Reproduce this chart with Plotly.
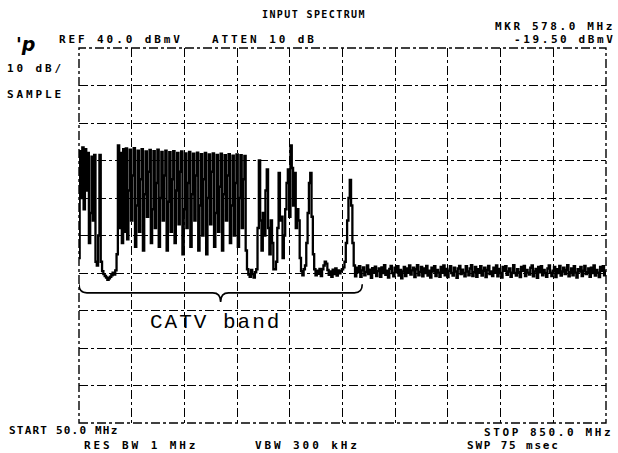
import numpy as np
import plotly.graph_objects as go

# ---------------- data ----------------
START_MHZ = 50.0
STOP_MHZ = 850.0
REF_DBMV = 40.0
DB_PER_DIV = 10
N_DIV = 10
CATV_BAND_MHZ = [50, 480]
CATV_LABEL = "CATV band"

# trace levels (dBmV), one sample per 2 MHz bin
level_low_vhf = [-16, 12.5, 0, 13.5, -3, 13, 2, 12, -12, -4, 11, -6, 11.5, -17,
                 -18, -10, 11.5, -17]
level_fm_gap = [-19.5, -20.3, -20.8, -21.2, -21.8, -21.4, -21.0, -20.6, -19.9, -20.4, -19.3]
level_mid_start = [-15, 14, -8, 12, -12, 13, -9]
level_dense = [13.2, -11, 2, 12.9, -6, 6, 13.3, -13, -2, 12.6, -9, 5,
               13.0, -14, 1, 12.4, -5, 7, 12.8, -12, -3, 12.5, -8, 4,
               12.9, -13, 0, 12.3, -6, 6, 12.6, -14, -1, 12.2, -9, 5,
               12.5, -12, 2, 12.0, -7, 7, 12.4, -15, -3, 11.9, -8, 4,
               12.3, -13, 1, 11.8, -6, 6, 12.1, -14, -2, 11.7, -10, 5,
               12.0, -15, 0, 11.6, -7, 7, 11.9, -13, -4, 11.5, -9, 3,
               11.8, -14, 1, 11.4, -6, 6, 11.7, -12, -2, 11.3, -10, 4,
               11.6, -13, 0, 11.4, -8, 5, 11.2]
level_gap2 = [-14, -19, -20.4, -21.0, -19.2, -20.3, -21.2, -19.8, -19.0]
level_discrete = [-8, 10, -6, -14, -4, -10, 2, 7.6, -8, -15, -6, -12, -19, -19,
                  -17, -8, 6.7, -6, -5, -16, -10, -3, 4, 7.6, -5, 14, 8, -2,
                  6.7, -8, -3, -6, -16, -19.5, -20.6, -19, -18, -12, -4, 4, 6.7,
                  -5, -15, -19]
level_last_ch = [-20.6, -19.4, -20.2, -18.9, -20.8, -19.0, -18.0, -17, -17.5, -19.2, -20.5,
                 -19.6, -21.0, -19.1, -20.3, -18.8, -20.7, -19.3, -20.1, -19.5, -19,
                 -18.5, -17, -12, -6, 0, 4.8, -2, -12, -18]
level_floor = [
    -20.9, -18.6, -19.8, -18.2, -21.0, -19.3, -18.5, -20.6, -19.7, -18.0, -20.3, -19.1, -21.3, -18.7, -19.9, -18.3, -20.8, -19.5, -18.8, -21.0,
    -18.5, -20.0, -17.9, -20.5, -19.4, -21.2, -18.9, -18.1, -20.0, -20.9, -18.6, -19.8, -18.2, -20.7, -19.2, -21.4, -19.6, -18.4, -20.8, -18.8,
    -19.9, -18.0, -20.4, -19.3, -18.6, -21.1, -19.0, -17.9, -20.6, -19.7, -18.4, -20.9, -18.8, -20.0, -18.1, -20.7, -19.4, -21.2, -18.6, -19.6,
    -18.2, -20.8, -19.2, -19.9, -21.0, -18.4, -19.8, -18.0, -20.6, -18.9, -21.1, -19.4, -18.2, -20.0, -20.7, -18.6, -19.6, -21.3, -18.8, -18.1,
    -20.3, -19.1, -20.0, -20.9, -18.2, -19.6, -20.6, -18.8, -17.9, -20.8, -19.8, -18.4, -21.0, -19.0, -19.9, -18.2, -20.7, -19.4, -18.6, -21.1,
    -19.2, -18.1, -20.3, -19.6, -20.8, -18.6, -19.8, -18.0, -20.9, -18.9, -20.0, -21.2, -18.4, -19.4, -18.2, -20.5, -19.6, -18.8, -21.0, -19.9,
    -17.9, -20.0, -20.7, -19.0, -19.8, -21.1, -18.4, -19.4, -18.1, -20.8, -19.2, -19.9, -20.4, -18.6, -18.0, -20.9, -19.6, -18.9, -21.3, -18.4,
    -19.8, -18.2, -20.6, -19.2, -20.0, -21.0, -18.8, -18.0, -19.9, -20.8, -19.4, -18.4, -21.1, -19.0, -20.0, -18.1, -20.7, -19.6, -18.6, -20.3,
    -19.2, -17.9, -20.9, -19.8, -18.8, -20.6, -18.2, -19.9, -21.2, -19.0, -19.6, -18.4, -20.8, -19.4, -18.1, -20.3, -19.8, -18.8, -21.0, -18.6,
    -20.0, -18.0, -20.7, -19.2, -19.9, -21.1, -18.4, -19.4, -18.2, -20.6, -19.6,
]

level = (level_low_vhf + level_fm_gap + level_mid_start + level_dense + level_gap2
         + level_discrete + level_last_ch + level_floor)
freq = np.linspace(START_MHZ, STOP_MHZ, len(level))

header_texts = {
    "title": "INPUT SPECTRUM",
    "ref": "REF 40.0 dBmV",
    "atten": "ATTEN 10 dB",
    "scale": "10 dB/",
    "det": "SAMPLE",
    "mkr_f": "MKR 578.0 MHz",
    "mkr_a": "-19.50 dBmV",
    "start": "START 50.0 MHz",
    "rbw": "RES BW 1 MHz",
    "vbw": "VBW 300 kHz",
    "stop": "STOP 850.0 MHz",
    "swp": "SWP 75 msec",
}

# ---------------- layout ----------------
W, H = 618, 453
PL, PR, PT, PB = 79, 606, 48, 423
y_bottom = REF_DBMV - DB_PER_DIV * N_DIV
x_div = (STOP_MHZ - START_MHZ) / N_DIV

fig = go.Figure()
fig.add_trace(go.Scatter(x=freq, y=level, mode="lines",
                         line=dict(color="black", width=2.3, shape="hvh"),
                         hoverinfo="skip", showlegend=False))

axis_common = dict(showgrid=True, gridcolor="black", gridwidth=1.2, griddash="dashdot",
                   showticklabels=False, ticks="", zeroline=False, showline=False,
                   fixedrange=True)
fig.update_xaxes(range=[START_MHZ, STOP_MHZ], tick0=START_MHZ, dtick=x_div, **axis_common)
fig.update_yaxes(range=[y_bottom, REF_DBMV], tick0=y_bottom, dtick=DB_PER_DIV, **axis_common)

# dashed frame
fig.add_shape(type="rect", xref="paper", yref="paper", x0=0, y0=0, x1=1, y1=1,
              line=dict(color="black", width=1.4, dash="dashdot"), layer="above")

# brace under the CATV band
bx0, bx1 = CATV_BAND_MHZ
bxc = (bx0 + bx1) / 2
y_line, y_end, y_tip, d = -25.3, -23.0, -27.7, 12
path = (f"M {bx0},{y_end} Q {bx0},{y_line} {bx0 + d},{y_line} "
        f"L {bxc - d},{y_line} Q {bxc},{y_line} {bxc},{y_tip} "
        f"Q {bxc},{y_line} {bxc + d},{y_line} L {bx1 - d},{y_line} "
        f"Q {bx1},{y_line} {bx1},{y_end}")
fig.add_shape(type="path", path=path, xref="x", yref="y",
              line=dict(color="black", width=1.6))

fig.add_annotation(x=bxc - 8, y=-33.3, xref="x", yref="y",
                   text='<span style="letter-spacing:2px">' + CATV_LABEL + '</span>',
                   showarrow=False, xanchor="center", yanchor="middle",
                   font=dict(family="Liberation Mono", size=21, color="black"))


def px_to_paper(px, py):
    return (px - PL) / (PR - PL), (PB - py) / (PB - PT)


def label(text, px, py, anchor="left", size=11, spacing=2.9):
    xp, yp = px_to_paper(px, py)
    fig.add_annotation(x=xp, y=yp, xref="paper", yref="paper",
                       text=f'<b><span style="letter-spacing:{spacing}px">{text}</span></b>',
                       showarrow=False, xanchor=anchor, yanchor="middle",
                       font=dict(family="DejaVu Sans Mono", size=size, color="black"))


label(header_texts["title"], 314, 15, anchor="center", size=10, spacing=1.4)
label(header_texts["ref"], 57, 40)
label(header_texts["atten"], 210, 40)
label(header_texts["scale"], 5, 68)
label(header_texts["det"], 5, 95)
label(header_texts["mkr_f"], 617, 26, anchor="right", spacing=2.6)
label(header_texts["mkr_a"], 617, 40, anchor="right", spacing=2.6)
label(header_texts["start"], 7, 430, spacing=1.2)
label(header_texts["rbw"], 82, 446)
label(header_texts["vbw"], 253, 446)
label(header_texts["stop"], 615, 432, anchor="right", spacing=2.6)
label(header_texts["swp"], 465, 446, spacing=1.8)

xp, yp = px_to_paper(14, 44)
fig.add_annotation(x=xp, y=yp, xref="paper", yref="paper", text="<b><i>'p</i></b>",
                   showarrow=False, xanchor="left", yanchor="middle",
                   font=dict(family="DejaVu Sans", size=19, color="black"))

fig.update_layout(width=W, height=H,
                  margin=dict(l=PL, r=W - PR, t=PT, b=H - PB, pad=0),
                  paper_bgcolor="white", plot_bgcolor="white")

fig.write_html("out.html", config={"displayModeBar": False},
               post_script="document.body.style.margin='0';document.body.style.padding='0';")
